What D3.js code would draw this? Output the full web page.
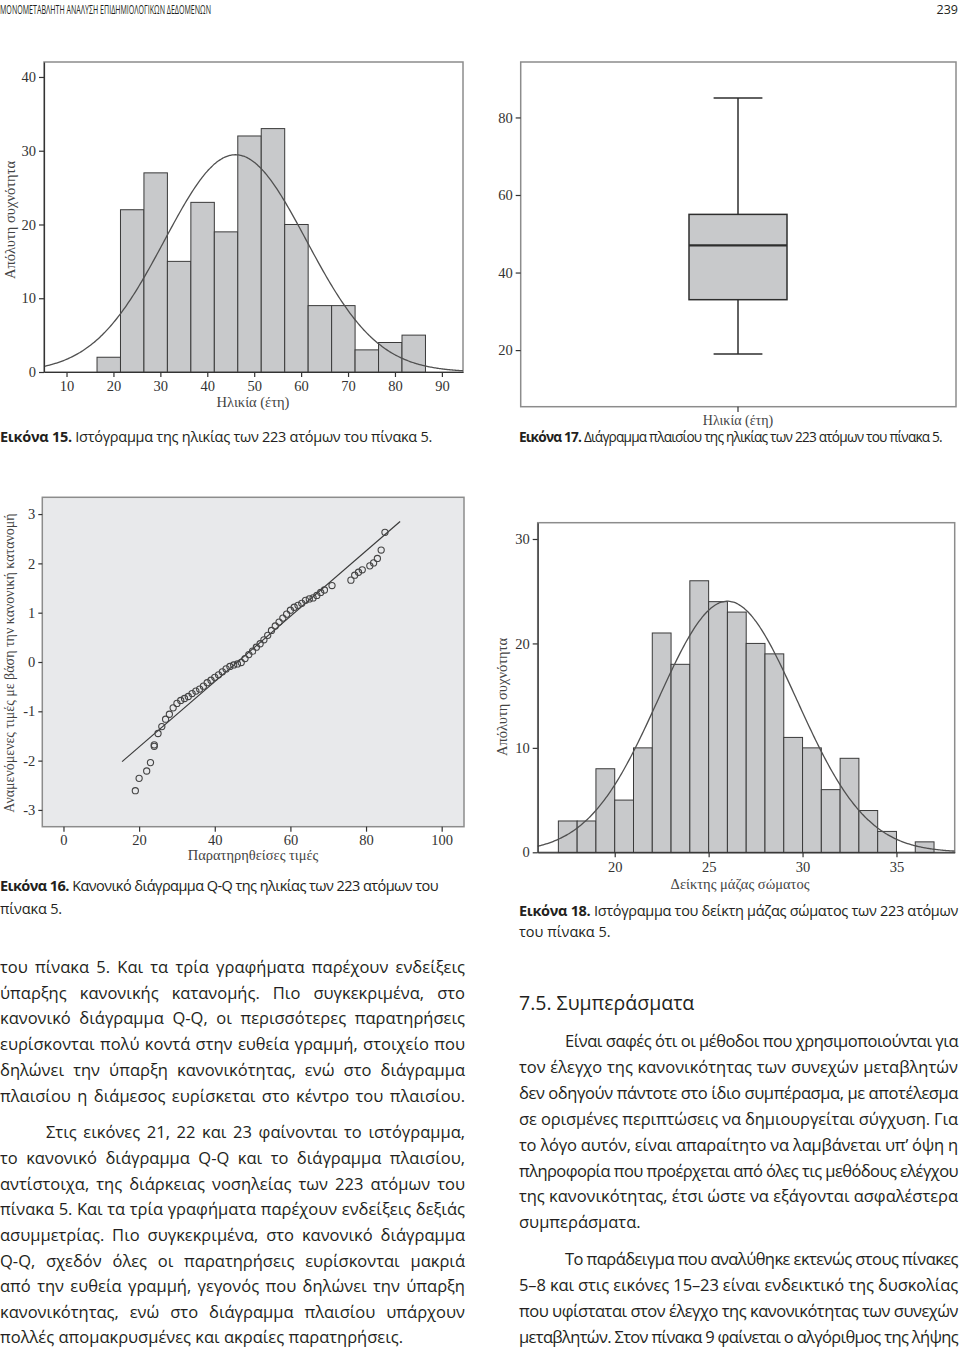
<!DOCTYPE html>
<html><head><meta charset="utf-8">
<script src="https://cdn.jsdelivr.net/npm/d3@7"></script>
<style>body{margin:0;background:#fff} svg{display:block}</style>
</head><body>
<svg id="page" width="960" height="1349"></svg>
<script>
// ---------- DATA ----------
const ageBinStarts = [16.5,21.5,26.5,31.5,36.5,41.5,46.5,51.5,56.5,61.5,66.5,71.5,76.5,81.5];
const ageCounts    = [2,22,27,15,23,19,32,33,20,9,9,3,4,5];
const ageBinWidth = 5, ageMean = 46, ageSD = 15.1, ageN = 223;
const ageXTicks = [10,20,30,40,50,60,70,80,90];
const ageYTicks = [0,10,20,30,40];

const boxStats = [19,33,47,55,85]; // min, Q1, median, Q3, max
const boxYTicks = [20,40,60,80];

const qqObserved = [19,20,22,23,24,24,25,26,27,28,29,30,31,32,33,34,35,36,37,38,39,40,41,42,43,44,45,46,47,48,49,50,51,52,53,54,55,56,57,58,59,60,61,62,63,64,65,66,67,68,69,71,76,77,78,79,81,82,83,84,85];
const qqExpected = [-2.61,-2.36,-2.21,-2.04,-1.71,-1.68,-1.45,-1.31,-1.16,-1.06,-0.93,-0.84,-0.78,-0.74,-0.70,-0.64,-0.59,-0.55,-0.49,-0.42,-0.37,-0.31,-0.26,-0.20,-0.14,-0.09,-0.06,-0.04,-0.01,0.07,0.15,0.22,0.30,0.37,0.45,0.54,0.64,0.73,0.81,0.89,0.97,1.05,1.11,1.15,1.19,1.25,1.28,1.30,1.35,1.41,1.46,1.55,1.66,1.76,1.82,1.87,1.95,2.01,2.10,2.27,2.63];
const qqLineEnds = [15.5, 89];
const qqXTicks = [0,20,40,60,80,100];
const qqYTicks = [-3,-2,-1,0,1,2,3];

const bmiBinStarts = [17,18,19,20,21,22,23,24,25,26,27,28,29,30,31,32,33,34,35,36];
const bmiCounts    = [3,3,8,5,10,21,18,26,24,23,20,19,11,10,6,9,4,2,0,1];
const bmiBinWidth = 1, bmiMean = 26.0, bmiSD = 3.7, bmiN = 223;
const bmiXTicks = [20,25,30,35];
const bmiYTicks = [0,10,20,30];

// ---------- TEXTS ----------
const headerTitle = "ΜΟΝΟΜΕΤΑΒΛΗΤΗ ΑΝΑΛΥΣΗ ΕΠΙΔΗΜΙΟΛΟΓΙΚΩΝ ΔΕΔΟΜΕΝΩΝ";
const pageNumber = "239";
const leftLines = [
 ["του πίνακα 5. Και τα τρία γραφήματα παρέχουν ενδείξεις", 0, "j"],
 ["ύπαρξης κανονικής κατανομής. Πιο συγκεκριμένα, στο", 0, "j"],
 ["κανονικό διάγραμμα Q-Q, οι περισσότερες παρατηρήσεις", 0, "j"],
 ["ευρίσκονται πολύ κοντά στην ευθεία γραμμή, στοιχείο που", 0, "j"],
 ["δηλώνει την ύπαρξη κανονικότητας, ενώ στο διάγραμμα", 0, "j"],
 ["πλαισίου η διάμεσος ευρίσκεται στο κέντρο του πλαισίου.", 0, "j"],
 ["Στις εικόνες 21, 22 και 23 φαίνονται το ιστόγραμμα,", 1, "j"],
 ["το κανονικό διάγραμμα Q-Q και το διάγραμμα πλαισίου,", 0, "j"],
 ["αντίστοιχα, της διάρκειας νοσηλείας των 223 ατόμων του", 0, "j"],
 ["πίνακα 5. Και τα τρία γραφήματα παρέχουν ενδείξεις δεξιάς", 0, "j"],
 ["ασυμμετρίας. Πιο συγκεκριμένα, στο κανονικό διάγραμμα", 0, "j"],
 ["Q-Q, σχεδόν όλες οι παρατηρήσεις ευρίσκονται μακριά", 0, "j"],
 ["από την ευθεία γραμμή, γεγονός που δηλώνει την ύπαρξη", 0, "j"],
 ["κανονικότητας, ενώ στο διάγραμμα πλαισίου υπάρχουν", 0, "j"],
 ["πολλές απομακρυσμένες και ακραίες παρατηρήσεις.", 0, "l"]
];
const leftY = [973,998.7,1024.4,1050.1,1075.8,1101.5,1138.2,1163.9,1189.6,1215.3,1241,1266.7,1292.4,1318.1,1343];
const rightHeading = "7.5. Συμπεράσματα";
const rightLines = [
 ["Είναι σαφές ότι οι μέθοδοι που χρησιμοποιούνται για", 1, "j"],
 ["τον έλεγχο της κανονικότητας των συνεχών μεταβλητών", 0, "j"],
 ["δεν οδηγούν πάντοτε στο ίδιο συμπέρασμα, με αποτέλεσμα", 0, "j"],
 ["σε ορισμένες περιπτώσεις να δημιουργείται σύγχυση. Για", 0, "j"],
 ["το λόγο αυτόν, είναι απαραίτητο να λαμβάνεται υπ’ όψη η", 0, "j"],
 ["πληροφορία που προέρχεται από όλες τις μεθόδους ελέγχου", 0, "j"],
 ["της κανονικότητας, έτσι ώστε να εξάγονται ασφαλέστερα", 0, "j"],
 ["συμπεράσματα.", 0, "l"],
 ["Το παράδειγμα που αναλύθηκε εκτενώς στους πίνακες", 1, "j"],
 ["5–8 και στις εικόνες 15–23 είναι ενδεικτικό της δυσκολίας", 0, "j"],
 ["που υφίσταται στον έλεγχο της κανονικότητας των συνεχών", 0, "j"],
 ["μεταβλητών. Στον πίνακα 9 φαίνεται ο αλγόριθμος της λήψης", 0, "j"]
];
const rightY = [1047,1072.9,1098.8,1124.7,1150.6,1176.5,1202.4,1228.3,1265,1290.9,1316.8,1342.7];

// ---------- DRAW ----------
const svg = d3.select("#page");
const SERIF = "'Liberation Serif','Times New Roman',serif";
const SANS = "'Open Sans','Noto Sans',sans-serif";
const INK = "#231f20";
const BAR_FILL = "#c8c9cb", BAR_STROKE = "#3a3a3a", FRAME = "#8c8c8c", AXIS = "#333";

function frame(x0,y0,x1,y1,fill){
  svg.append("rect").attr("x",x0).attr("y",y0).attr("width",x1-x0).attr("height",y1-y0)
    .attr("fill",fill||"none").attr("stroke",FRAME).attr("stroke-width",1.5);
}
function styleAxis(g){
  g.selectAll("path").attr("stroke",AXIS).attr("stroke-width",1.2);
  g.selectAll("line").attr("stroke",AXIS).attr("stroke-width",1.2);
  g.selectAll("text").attr("font-family",SERIF).attr("font-size",14.5).attr("fill","#333");
}
function label(x,y,txt,rot,fs){
  const t = svg.append("text").attr("font-family",SERIF).attr("font-size",fs||14.5).attr("fill","#444")
    .attr("text-anchor","middle").attr("dominant-baseline","central").text(txt);
  if(rot) t.attr("transform",`translate(${x},${y}) rotate(-90)`); else t.attr("x",x).attr("y",y);
}
function normalCurve(x, mean, sd, n, bw){
  return n*bw*Math.exp(-0.5*((x-mean)/sd)**2)/(sd*Math.sqrt(2*Math.PI));
}

// Chart 1: age histogram
{
  const x = d3.scaleLinear().domain([5.2,94.5]).range([44,463]);
  const y = d3.scaleLinear().domain([0,42.03]).range([372,62]);
  frame(44,62,463,372);
  svg.append("g").selectAll("rect").data(ageCounts).join("rect")
    .attr("x",(d,i)=>x(ageBinStarts[i])).attr("width",(d,i)=>x(ageBinStarts[i]+ageBinWidth)-x(ageBinStarts[i]))
    .attr("y",d=>y(d)).attr("height",d=>y(0)-y(d))
    .attr("fill",BAR_FILL).attr("stroke",BAR_STROKE).attr("stroke-width",1);
  const xs = d3.range(0,301).map(i=>5.2+i*(94.5-5.2)/300);
  svg.append("path").datum(xs).attr("fill","none").attr("stroke","#505050").attr("stroke-width",1.3)
    .attr("d",d3.line().x(d=>x(d)).y(d=>y(normalCurve(d,ageMean,ageSD,ageN,ageBinWidth))).curve(d3.curveBasis));
  svg.append("g").attr("transform","translate(0,372)").call(d3.axisBottom(x).tickValues(ageXTicks).tickSize(5).tickPadding(4).tickSizeOuter(0)).call(styleAxis);
  svg.append("g").attr("transform","translate(44,0)").call(d3.axisLeft(y).tickValues(ageYTicks).tickSize(5).tickPadding(3).tickSizeOuter(0)).call(styleAxis);
  label(253,402,"Ηλικία (έτη)");
  label(10,220,"Απόλυτη συχνότητα",true);
}

// Chart 2: boxplot
{
  const y = d3.scaleLinear().domain([5.4,94.3]).range([406.7,62]);
  const cx = 738, bw = 49, cw = 24.4;
  frame(520.7,62,956,406.7);
  const [mn,q1,md,q3,mx] = boxStats;
  const g = svg.append("g").attr("stroke","#2e2e2e").attr("stroke-width",1.5);
  g.append("line").attr("x1",cx).attr("x2",cx).attr("y1",y(q3)).attr("y2",y(mx));
  g.append("line").attr("x1",cx).attr("x2",cx).attr("y1",y(q1)).attr("y2",y(mn));
  g.append("line").attr("x1",cx-cw).attr("x2",cx+cw).attr("y1",y(mx)).attr("y2",y(mx));
  g.append("line").attr("x1",cx-cw).attr("x2",cx+cw).attr("y1",y(mn)).attr("y2",y(mn));
  g.append("rect").attr("x",cx-bw).attr("width",2*bw).attr("y",y(q3)).attr("height",y(q1)-y(q3)).attr("fill",BAR_FILL);
  g.append("line").attr("x1",cx-bw).attr("x2",cx+bw).attr("y1",y(md)).attr("y2",y(md)).attr("stroke-width",2.2);
  const ya = svg.append("g").attr("transform","translate(520.7,0)").call(d3.axisLeft(y).tickValues(boxYTicks).tickSize(5).tickPadding(3)).call(styleAxis);
  ya.select("path").remove();
  svg.append("line").attr("x1",cx).attr("x2",cx).attr("y1",406.7).attr("y2",412).attr("stroke",AXIS).attr("stroke-width",1.2);
  label(cx,420,"Ηλικία (έτη)",false,14);
}

// Chart 3: Q-Q plot
{
  const x = d3.scaleLinear().domain([-5.6,105.9]).range([42.3,464]);
  const y = d3.scaleLinear().domain([-3.34,3.34]).range([826.7,497.3]);
  frame(42.3,497.3,464,826.7,"#e8e9eb");
  svg.append("line").attr("x1",x(qqLineEnds[0])).attr("x2",x(qqLineEnds[1]))
    .attr("y1",y((qqLineEnds[0]-ageMean)/ageSD)).attr("y2",y((qqLineEnds[1]-ageMean)/ageSD))
    .attr("stroke","#3a3a3a").attr("stroke-width",1.2);
  svg.append("g").selectAll("circle").data(qqObserved).join("circle")
    .attr("cx",d=>x(d)).attr("cy",(d,i)=>y(qqExpected[i])).attr("r",3.1)
    .attr("fill","none").attr("stroke","#444").attr("stroke-width",1.1);
  const xa = svg.append("g").attr("transform","translate(0,826.7)").call(d3.axisBottom(x).tickValues(qqXTicks).tickSize(5).tickPadding(3)).call(styleAxis);
  xa.select("path").remove();
  const ya = svg.append("g").attr("transform","translate(42.3,0)").call(d3.axisLeft(y).tickValues(qqYTicks).tickSize(4).tickPadding(3).tickFormat(d=>String(d))).call(styleAxis);
  ya.select("path").remove();
  label(253,855,"Παρατηρηθείσες τιμές");
  label(9,663,"Αναμενόμενες τιμές με βάση την κανονική κατανομή",true,14);
}

// Chart 4: BMI histogram
{
  const x = d3.scaleLinear().domain([15.9,38.1]).range([537.7,954.7]);
  const y = d3.scaleLinear().domain([0,31.56]).range([852.3,522.7]);
  frame(537.7,522.7,954.7,852.3);
  svg.append("g").selectAll("rect").data(bmiCounts).join("rect")
    .attr("x",(d,i)=>x(bmiBinStarts[i])).attr("width",(d,i)=>x(bmiBinStarts[i]+bmiBinWidth)-x(bmiBinStarts[i]))
    .attr("y",d=>y(d)).attr("height",d=>y(0)-y(d))
    .attr("fill",BAR_FILL).attr("stroke",BAR_STROKE).attr("stroke-width",1)
    .attr("display",d=>d>0?null:"none");
  const xs = d3.range(0,301).map(i=>15.9+i*(38.1-15.9)/300);
  svg.append("path").datum(xs).attr("fill","none").attr("stroke","#505050").attr("stroke-width",1.3)
    .attr("d",d3.line().x(d=>x(d)).y(d=>y(normalCurve(d,bmiMean,bmiSD,bmiN,bmiBinWidth))).curve(d3.curveBasis));
  svg.append("g").attr("transform","translate(0,852.3)").call(d3.axisBottom(x).tickValues(bmiXTicks).tickSize(5).tickPadding(4).tickSizeOuter(0)).call(styleAxis);
  svg.append("g").attr("transform","translate(537.7,0)").call(d3.axisLeft(y).tickValues(bmiYTicks).tickSize(5).tickPadding(3).tickSizeOuter(0)).call(styleAxis);
  label(740,884,"Δείκτης μάζας σώματος");
  label(502,697,"Απόλυτη συχνότητα",true);
}

// ---------- TEXT BLOCKS ----------
// tighten letter-spacing (then font-size if still needed) so a text fits a target width
function fitWidth(t, fs, target){
  let w = t.node().getComputedTextLength();
  if (w <= target) return w;
  const nChars = t.text().length;
  let ls = (target - w) / nChars;
  ls = Math.max(ls, -0.8);
  t.attr("letter-spacing", ls);
  w = t.node().getComputedTextLength();
  if (w > target) { t.attr("font-size", fs*target/w*0.995); w = t.node().getComputedTextLength(); }
  return w;
}
// header
{
  const t = svg.append("text").attr("x",0).attr("y",14).attr("font-family",SANS).attr("font-size",12.5)
    .attr("fill",INK).text(headerTitle);
  t.attr("textLength",211).attr("lengthAdjust","spacingAndGlyphs");
  svg.append("text").attr("x",958).attr("y",14).attr("text-anchor","end").attr("font-family",SANS)
    .attr("font-size",12.5).attr("fill",INK).text(pageNumber);
}
// captions
function caption(x,y,bold,rest,width){
  const fs = 14.5;
  const t = svg.append("text").attr("x",x).attr("y",y).attr("font-family",SANS).attr("font-size",fs).attr("fill",INK);
  if(bold) t.append("tspan").attr("font-weight","bold").text(bold);
  t.append("tspan").text(rest);
  fitWidth(t, fs, width);
}
caption(0,442,"Εικόνα 15."," Ιστόγραμμα της ηλικίας των 223 ατόμων του πίνακα 5.",432);
caption(519,442,"Εικόνα 17."," Διάγραμμα πλαισίου της ηλικίας των 223 ατόμων του πίνακα 5.",429);
caption(0,891,"Εικόνα 16."," Κανονικό διάγραμμα Q-Q της ηλικίας των 223 ατόμων του",438);
caption(0,914,null,"πίνακα 5.",62);
caption(519,916,"Εικόνα 18."," Ιστόγραμμα του δείκτη μάζας σώματος των 223 ατόμων",439);
caption(519,937,null,"του πίνακα 5.",92);

// body
const BODY_FS = 16.5;
function bodyLine(str, indent, mode, x0, x1, y){
  const xs = x0 + (indent?46:0);
  const target = x1 - xs;
  const t = svg.append("text").attr("x",xs).attr("y",y).attr("font-family",SANS)
    .attr("font-size",BODY_FS).attr("fill",INK).text(str);
  const w = fitWidth(t, BODY_FS, target);
  if (mode === "j") {
    const n = (str.match(/ /g)||[]).length;
    if (n > 0 && w < target) t.attr("word-spacing", (target - w)/n);
  }
}
leftLines.forEach((l,i)=>bodyLine(l[0],l[1],l[2],0,465,leftY[i]));
svg.append("text").attr("x",519).attr("y",1010).attr("font-family",SANS).attr("font-size",19.5)
  .attr("fill",INK).text(rightHeading);
rightLines.forEach((l,i)=>bodyLine(l[0],l[1],l[2],519,958,rightY[i]));
</script>
</body></html>
